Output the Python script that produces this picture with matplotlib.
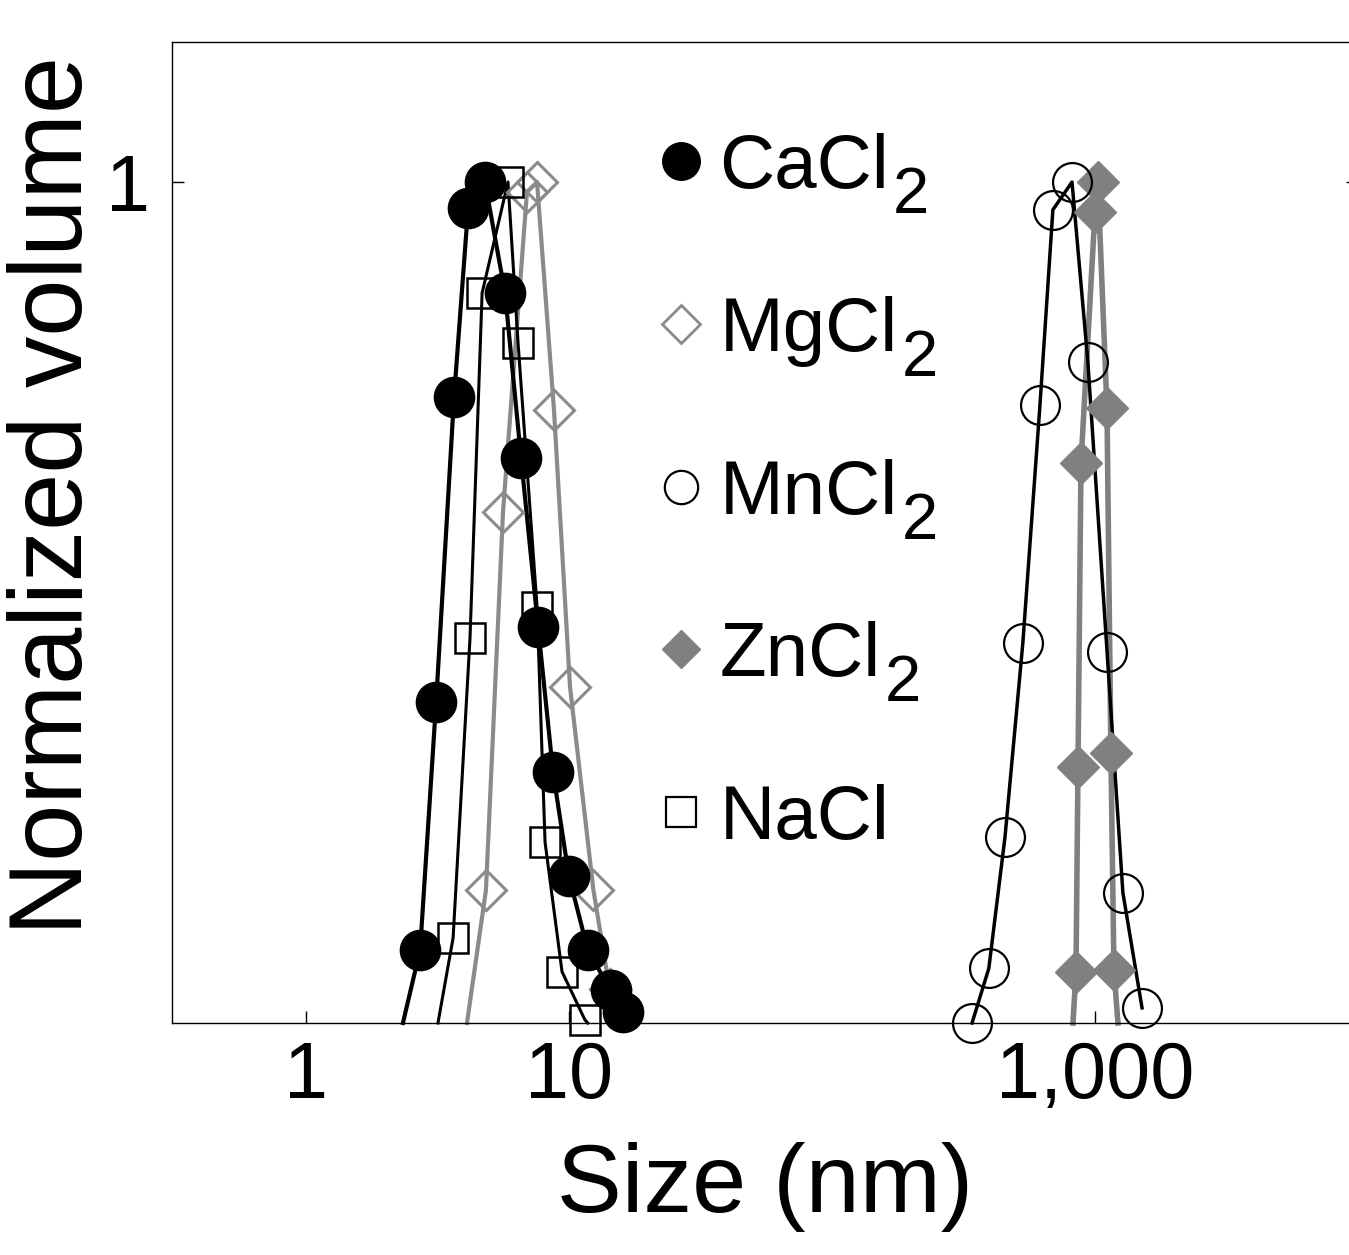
import numpy as np
import matplotlib
matplotlib.use("Agg")
import matplotlib.pyplot as plt
from matplotlib.lines import Line2D
from matplotlib.ticker import NullLocator

plt.rcParams['font.family'] = ['Liberation Sans', 'DejaVu Sans']

# --- data (size in nm, normalized volume) ---
cacl2_x = [2.72, 3.13, 3.66, 4.14, 4.80, 5.72, 6.58, 7.64, 8.71, 10.0, 11.8, 14.4, 16.1]
cacl2_y = [0.087, 0.382, 0.744, 0.969, 1.0, 0.868, 0.672, 0.471, 0.298, 0.175, 0.087, 0.039, 0.013]

mgcl2_x = [4.84, 5.62, 6.93, 7.57, 8.78, 10.1, 12.4, 14.3]
mgcl2_y = [0.158, 0.608, 0.988, 1.0, 0.729, 0.400, 0.158, 0.040]

mncl2_x = [341, 395, 455, 532, 618, 692, 818, 940, 1112, 1277, 1510]
mncl2_y = [0.0, 0.065, 0.221, 0.452, 0.735, 0.967, 1.0, 0.786, 0.441, 0.155, 0.018]

zncl2_x = [847, 862, 885, 1000, 1026, 1111, 1150, 1181]
zncl2_y = [0.061, 0.304, 0.666, 0.964, 1.0, 0.731, 0.321, 0.063]

nacl_x = [3.63, 4.21, 4.68, 5.87, 6.41, 7.57, 8.12, 9.42, 11.5]
nacl_y = [0.101, 0.458, 0.868, 1.0, 0.809, 0.495, 0.215, 0.061, 0.004]

# where the drawn curves run out to zero (left, right)
cacl2_ends = [2.34, 17.0]
mgcl2_ends = [4.10, 16.4]
zncl2_ends = [825, 1223]
nacl_ends = [3.18, 11.8]

labels = ['CaCl', 'MgCl', 'MnCl', 'ZnCl', 'NaCl']
subscripts = ['2', '2', '2', '2', '']

gray = '#8a8a8a'
zgray = '#808080'

W, H = 1349, 1255
fig = plt.figure(figsize=(W / 100, H / 100), dpi=100)
ax = fig.add_axes([172 / W, 1 - 1023 / H, (1358 - 172) / W, (1023 - 42) / H])


def with_ends(xs, ys, ends):
    return [ends[0]] + list(xs) + [ends[1]], [0.0] + list(ys) + [0.0]


# curves
lx, ly = with_ends(mgcl2_x, mgcl2_y, mgcl2_ends)
ax.plot(lx, ly, color=gray, lw=3.0, clip_on=False, zorder=2)
lx, ly = with_ends(zncl2_x, zncl2_y, zncl2_ends)
ax.plot(lx, ly, color=zgray, lw=4.0, clip_on=False, zorder=2)
lx, ly = with_ends(cacl2_x, cacl2_y, cacl2_ends)
ax.plot(lx, ly, color='black', lw=3.0, clip_on=False, zorder=3)
lx, ly = with_ends(nacl_x, nacl_y, nacl_ends)
ax.plot(lx, ly, color='black', lw=2.2, clip_on=False, zorder=3)
ax.plot(mncl2_x, mncl2_y, color='black', lw=2.5, clip_on=False, zorder=3)

# markers
ax.plot(mgcl2_x, mgcl2_y, ls='none', marker='D', ms=20, mfc='none', mec=gray,
        mew=2.2, clip_on=False, zorder=4)
ax.plot(zncl2_x, zncl2_y, ls='none', marker='D', ms=21, mfc=zgray, mec=zgray,
        clip_on=False, zorder=4)
ax.plot(mncl2_x, mncl2_y, ls='none', marker='o', ms=28, mfc='none', mec='black',
        mew=1.6, clip_on=False, zorder=5)
ax.plot(nacl_x, nacl_y, ls='none', marker='s', ms=22, mfc='none', mec='black',
        mew=1.8, clip_on=False, zorder=5)
ax.plot(cacl2_x, cacl2_y, ls='none', marker='o', ms=29, mfc='black', mec='black',
        clip_on=False, zorder=6)

ax.set_xscale('log')
ax.set_xlim(0.31, 1e4)
ax.set_ylim(0, 1.1665)
ax.set_xticks([1, 10, 1000])
ax.set_xticklabels(['1', '10', '1,000'])
ax.xaxis.set_minor_locator(NullLocator())
ax.set_yticks([1])
ax.set_yticklabels(['1'])
ax.tick_params(direction='in', length=8.5, width=1, top=False, right=True,
               labelsize=57)
ax.tick_params(axis='x', pad=12)
ax.tick_params(axis='y', pad=16)
for s in ax.spines.values():
    s.set_linewidth(1.0)

ax.set_xlabel('Size (nm)', fontsize=70, labelpad=20)
ax.set_ylabel('Normalized volume', fontsize=74)
ax.yaxis.set_label_coords(-0.057, 0.538)

# legend (markers only), subscripts added beside each label
handles = [
    Line2D([], [], ls='none', marker='o', ms=27, mfc='black', mec='black'),
    Line2D([], [], ls='none', marker='D', ms=19, mfc='none', mec=gray, mew=2.0),
    Line2D([], [], ls='none', marker='o', ms=24, mfc='none', mec='black', mew=1.6),
    Line2D([], [], ls='none', marker='D', ms=19, mfc=zgray, mec=zgray),
    Line2D([], [], ls='none', marker='s', ms=21, mfc='none', mec='black', mew=1.6),
]
leg = ax.legend(handles, labels, loc='upper left', bbox_to_anchor=(0.41, 0.907),
                frameon=False, fontsize=55, handlelength=0.6, handletextpad=0.2,
                labelspacing=1.2, borderpad=0, borderaxespad=0)
for txt, sub in zip(leg.get_texts(), subscripts):
    if sub:
        ax.annotate(sub, xy=(1, 0), xycoords=txt, xytext=(4, -9),
                    textcoords='offset pixels', fontsize=47, va='baseline',
                    ha='left', zorder=10)

fig.savefig('out.png', dpi=100)
